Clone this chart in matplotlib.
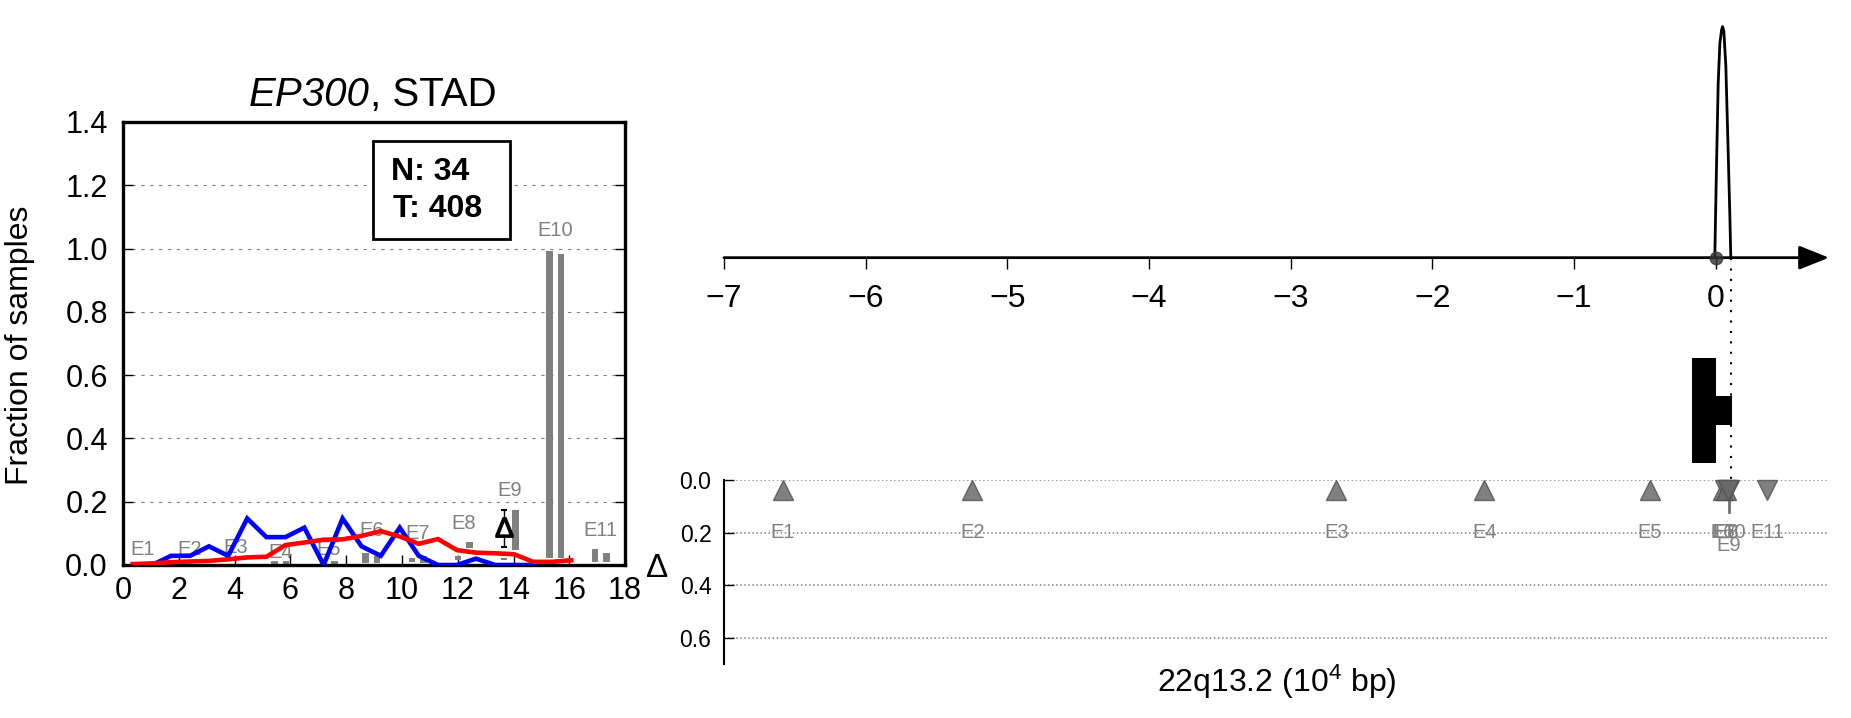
import numpy as np
import matplotlib
matplotlib.use("Agg")
import matplotlib.pyplot as plt
from matplotlib.patches import Rectangle

plt.rcParams["font.family"] = ["Liberation Sans", "DejaVu Sans"]
plt.rcParams["mathtext.fontset"] = "custom"
plt.rcParams["mathtext.rm"] = "Liberation Sans"
plt.rcParams["mathtext.it"] = "Liberation Sans:italic"
plt.rcParams["mathtext.bf"] = "Liberation Sans:bold"

# ---- left panel: fraction of samples per bin
bin_x = [0.35, 1.04, 1.72, 2.40, 3.08, 3.77, 4.45, 5.14, 5.82, 6.50, 7.19, 7.87,
         8.55, 9.24, 9.92, 10.60, 11.29, 11.97, 12.65, 13.34, 14.02, 14.70, 15.39, 16.07]
normal_frac = [0.0, 0.0, 0.029, 0.029, 0.059, 0.029, 0.147, 0.088, 0.088, 0.118, 0.0, 0.147,
               0.059, 0.029, 0.118, 0.029, 0.0, 0.0, 0.02, 0.0, 0.0, 0.0, None, None]
tumor_frac = [0.003, 0.005, 0.009, 0.011, 0.013, 0.018, 0.024, 0.026, 0.063, 0.071, 0.080, 0.081,
              0.092, 0.107, 0.090, 0.067, 0.082, 0.047, 0.039, 0.037, 0.034, 0.010, 0.010, 0.015]

exon_names = ["E1", "E2", "E3", "E4", "E5", "E6", "E7", "E8", "E9", "E10", "E11"]
exon_bin = [0.71, 2.38, 4.04, 5.64, 7.37, 8.90, 10.57, 12.21, 13.87, 15.50, 17.13]
normal_bottom = [0.0, 0.0, 0.0, 0.003, 0.003, 0.007, 0.011, 0.015, 0.015, 0.021, 0.008]
normal_top = [0.004, 0.004, 0.004, 0.012, 0.012, 0.037, 0.021, 0.030, 0.021, 0.993, 0.050]
tumor_bottom = [0.0, 0.0, 0.0, 0.003, 0.003, 0.007, 0.007, 0.053, 0.047, 0.021, 0.008]
tumor_top = [0.004, 0.004, 0.004, 0.012, 0.012, 0.030, 0.030, 0.074, 0.174, 0.982, 0.037]
exon_label_y = [0.05, 0.05, 0.055, 0.04, 0.05, 0.11, 0.10, 0.13, 0.235, 1.056, 0.11]

delta_x = 13.67
delta_y = 0.121
delta_err = [0.063, 0.053]

n_normal = 34
n_tumor = 408

# ---- right panel: genomic track (10^4 bp)
track_ticks = [-7, -6, -5, -4, -3, -2, -1, 0]
peak_x = [-0.006, 0.006, 0.018, 0.030, 0.042, 0.049, 0.058, 0.072, 0.088, 0.100, 0.107]
peak_y = [0.0, 0.394, 0.755, 0.928, 0.986, 1.0, 0.98, 0.83, 0.47, 0.19, 0.0]
breakpoint_x = 0.107
gene_start = [-0.166, 0.006]
gene_end = [0.006, 0.119]
gene_low = [-0.887, -0.724]
gene_high = [-0.435, -0.599]

exon_pos = [-6.586, -5.246, -2.678, -1.632, -0.463, 0.050, 0.065, 0.075, 0.095, 0.090, 0.365]
exon_dir = ["^", "^", "^", "^", "^", "^", "v", "^", "v", "v", "v"]
exon_delta = [0.037] * 11
exon_delta_err = [0, 0, 0, 0, 0, 0, 0, 0, 0.083, 0, 0]
delta_ticks = [0.0, 0.2, 0.4, 0.6]

fig = plt.figure(figsize=(18.51, 7.18), dpi=100)

# ---------------- left panel
ax = fig.add_axes([0.0665, 0.2131, 0.2712, 0.617])
w = 0.23
off = 0.205
for i, name in enumerate(exon_names):
    ax.bar(exon_bin[i] - off, normal_top[i] - normal_bottom[i], bottom=normal_bottom[i],
           width=w, color="#808080", zorder=2)
    ax.bar(exon_bin[i] + off, tumor_top[i] - tumor_bottom[i], bottom=tumor_bottom[i],
           width=w, color="#808080", zorder=2)
    ax.text(exon_bin[i], exon_label_y[i], name, color="#808080", fontsize=14.5,
            ha="center", va="center", zorder=1.5)

nx = [x for x, y in zip(bin_x, normal_frac) if y is not None]
ny = [y for y in normal_frac if y is not None]
ax.plot(nx, ny, color="#0000ff", lw=3.3, zorder=3, solid_joinstyle="miter")
ax.plot(bin_x, tumor_frac, color="#ff0000", lw=3.3, zorder=4, solid_joinstyle="miter")

ax.errorbar([delta_x], [delta_y], yerr=[[delta_err[0]], [delta_err[1]]], fmt="none",
            ecolor="k", elinewidth=1, capsize=2.5, capthick=1.5, zorder=5)
ax.plot([delta_x], [delta_y], marker="^", ms=10, color="white", zorder=6, ls="none")
ax.plot([delta_x], [delta_y], marker=r"$\Delta$", ms=14, color="k", zorder=7, ls="none")

# sample-count box
ax.add_patch(Rectangle((0.498, 0.736), 0.273, 0.221, transform=ax.transAxes,
                       fc="white", ec="k", lw=2, zorder=8))
ax.text(0.534, 0.869, "N: %d" % n_normal, transform=ax.transAxes, ha="left",
        va="baseline", fontsize=23, fontweight="bold", zorder=9)
ax.text(0.538, 0.786, "T: %d" % n_tumor, transform=ax.transAxes, ha="left",
        va="baseline", fontsize=23, fontweight="bold", zorder=9)

ax.set_xlim(0, 18)
ax.set_ylim(0, 1.4)
ax.set_xticks(np.arange(0, 19, 2))
ax.set_yticks(np.arange(0, 1.41, 0.2))
ax.set_yticklabels(["%.1f" % v for v in np.arange(0, 1.41, 0.2)])
ax.yaxis.grid(True, linestyle=(0, (3, 5)), color="gray", lw=0.8)
ax.tick_params(direction="in", length=7, width=1, labelsize=22, right=True, top=False)
ax.tick_params(axis="x", pad=8)
ax.tick_params(axis="y", pad=11)
for s in ax.spines.values():
    s.set_linewidth(2.4)

# title: italic gene name + cancer type
ax.annotate("EP300", xy=(0.5, 1.0), xycoords="axes fraction", xytext=(-3.2, 11.5),
            textcoords="offset points", ha="right", va="baseline", fontsize=29,
            fontstyle="italic")
ax.annotate(", STAD", xy=(0.5, 1.0), xycoords="axes fraction", xytext=(-3.2, 11.5),
            textcoords="offset points", ha="left", va="baseline", fontsize=29)
ax.set_ylabel("Fraction of samples", fontsize=23)
ax.yaxis.set_label_coords(-0.175, 0.497)

# ---------------- right panel, top track
axt = fig.add_axes([0.3911, 0.3454, 0.597, 0.6407])
axt.set_xlim(-7, 0.8)
axt.set_ylim(-0.919, 1.072)
for s in axt.spines.values():
    s.set_visible(False)
axt.spines["bottom"].set_position(("data", 0))
axt.set_yticks([])
axt.set_xticks(track_ticks)
axt.tick_params(axis="x", direction="out", length=8, width=1, pad=11, labelsize=23)
axt.annotate("", xy=(0.8, 0), xytext=(-7, 0),
             arrowprops=dict(arrowstyle="-|>,head_length=0.5,head_width=0.2",
                             mutation_scale=37, lw=2, color="k", shrinkA=0, shrinkB=0),
             annotation_clip=False)
axt.plot(peak_x, peak_y, color="k", lw=2)
axt.plot([0], [0], marker="o", ms=9, color="#333333", alpha=0.8, ls="none", zorder=5)
axt.plot([breakpoint_x, breakpoint_x], [0, -0.96], color="k", lw=1.5,
         linestyle=(0, (1, 4)), clip_on=False)
for i in range(len(gene_start)):
    axt.bar(gene_start[i], gene_high[i] - gene_low[i], bottom=gene_low[i],
            width=gene_end[i] - gene_start[i], align="edge", color="k", lw=0)

# ---------------- right panel, exon deltas
axb = fig.add_axes([0.3911, 0.0752, 0.597, 0.2563])
axb.set_xlim(-7, 0.8)
axb.set_ylim(0.7, 0)
for k in ["top", "right", "bottom"]:
    axb.spines[k].set_visible(False)
axb.spines["left"].set_linewidth(1.5)
axb.set_xticks([])
axb.set_yticks(delta_ticks)
axb.set_yticklabels(["%.1f" % v for v in delta_ticks])
axb.tick_params(axis="y", direction="in", length=7, width=1, pad=9, labelsize=16.5)
axb.yaxis.grid(True, linestyle=":", color="gray", lw=1.1)
for i, name in enumerate(exon_names):
    if exon_delta_err[i] > 0:
        axb.plot([exon_pos[i], exon_pos[i]], [exon_delta[i], exon_delta[i] + exon_delta_err[i]],
                 color="#707070", lw=2, zorder=2)
    axb.plot([exon_pos[i]], [exon_delta[i]], marker=exon_dir[i], ms=15, color="#6a6a6a",
             mec="#555555", alpha=0.85, ls="none", zorder=3, clip_on=False)
    ly = 0.2 if name != "E9" else 0.25
    axb.text(exon_pos[i], ly, name, color="#808080", fontsize=14.5, ha="center", va="center")
axb.set_ylabel("\u0394", rotation=0, fontsize=24, ha="center", va="center")
axb.yaxis.set_label_coords(-0.0606, 0.52)
axb.text(0.5, -0.095, r"22q13.2 (10$^4$ bp)", transform=axb.transAxes,
         ha="center", va="center", fontsize=23)

fig.savefig("out.png", dpi=100)
